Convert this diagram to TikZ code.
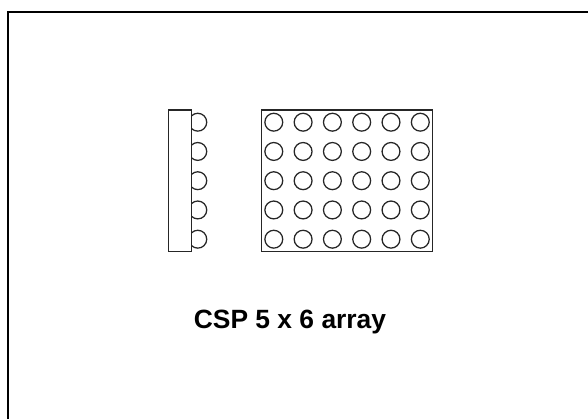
\documentclass[tikz,border=0pt]{standalone}
\usepackage{fontspec}
\setmainfont{Liberation Sans}
\usepackage{tikz}
\usetikzlibrary{positioning}

\tikzset{
	ball/.style={circle,draw=black!85,line width=0.95pt,inner sep=0pt,minimum size=13.4pt},
	package/.style={rectangle,draw=black!85,line width=0.95pt,inner sep=0pt},
	frameline/.style={draw=black,line width=1.5pt}
}

\begin{document}
\begin{tikzpicture}[x=0.75pt,y=-0.75pt]
	\useasboundingbox (0,0) rectangle (588,419);

	\coordinate (FA) at (8,419);
	\coordinate (FB) at (8,12);
	\coordinate (FC) at (588,12);
	\draw[frameline] (FA) -- (FB) -- (FC);

	% side view
	\foreach \r in {1,...,5}
		\node[ball] (S\r) at (197.8,{122.2+29.25*(\r-1)}) {};
	\node[package,fill=white,minimum width=17.5pt,minimum height=106pt] (side) at (180,180.6) {};

	% top view
	\node[package,minimum width=128.3pt,minimum height=106pt] (top) at (347.2,180.6) {};
	\foreach \r in {1,...,5}
		\foreach \c in {1,...,6}
			\node[ball] (B\r\c) at ({273.8+29.3*(\c-1)},{122.2+29.25*(\r-1)}) {};

	\node[font=\bfseries\fontsize{19.8pt}{24pt}\selectfont,inner sep=0pt,anchor=base] (title) at (290,328) {CSP 5 x 6 array};
\end{tikzpicture}
\end{document}
